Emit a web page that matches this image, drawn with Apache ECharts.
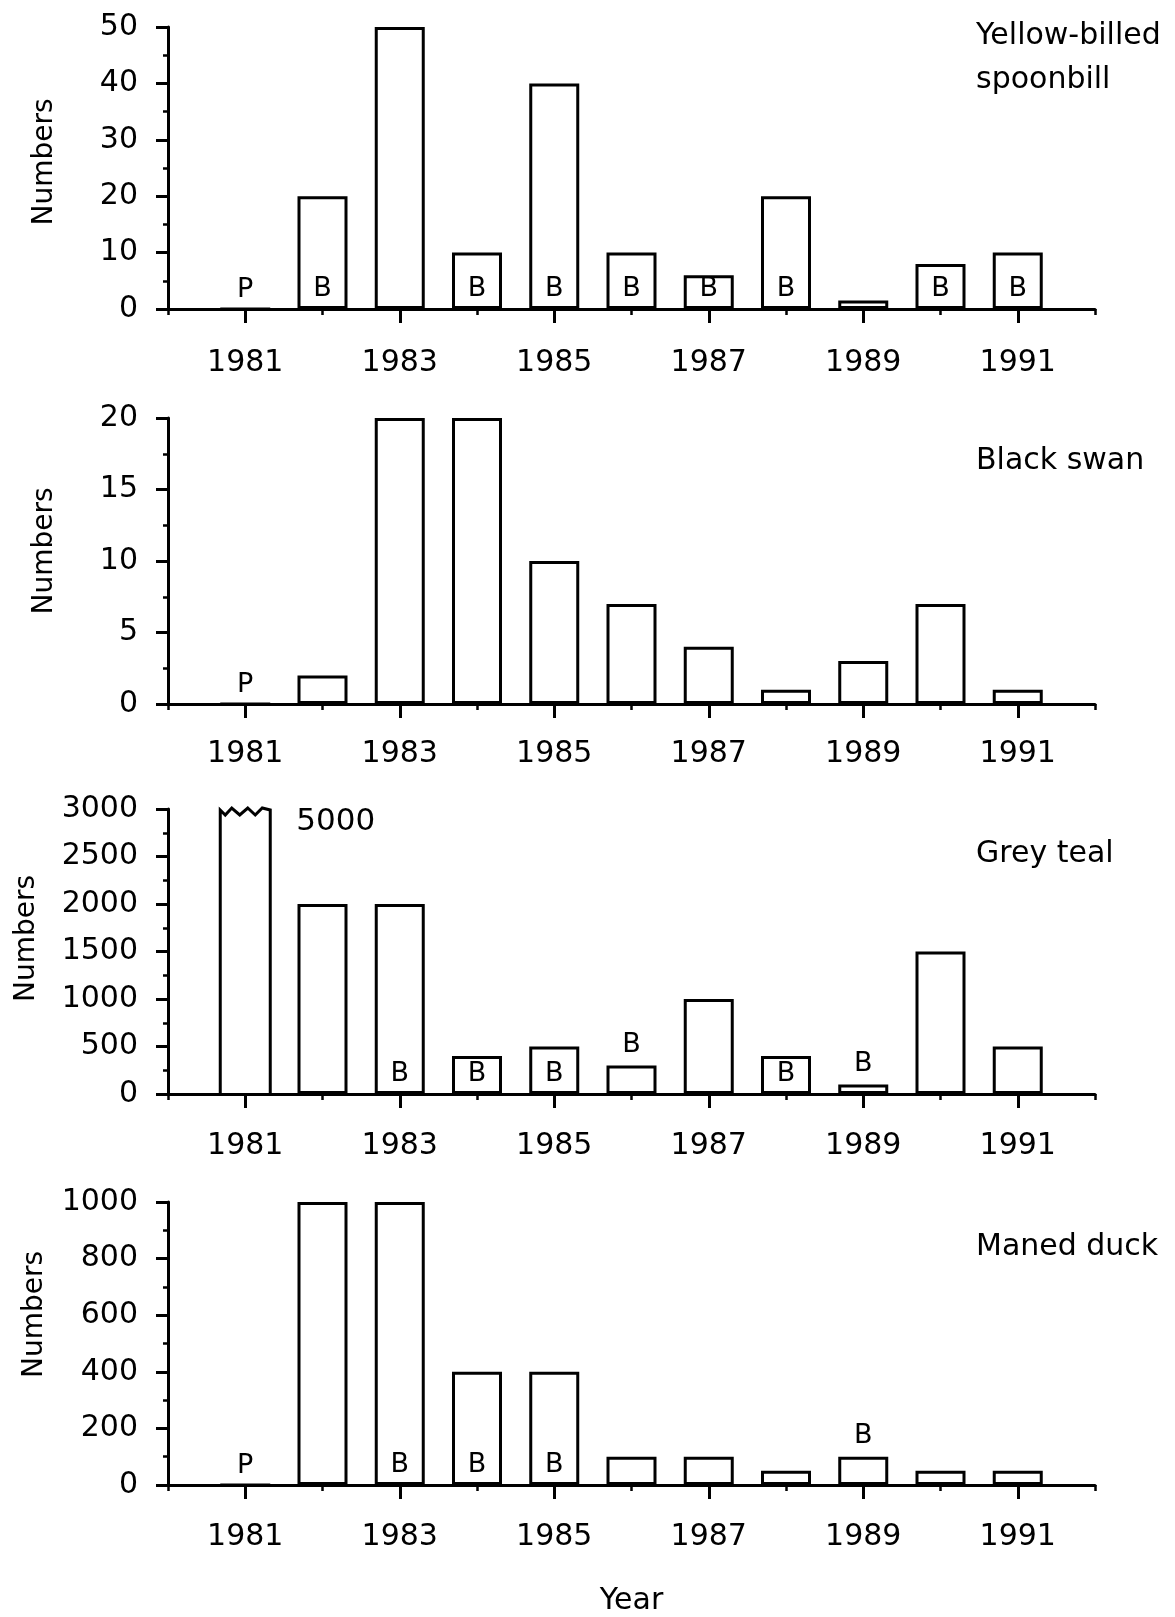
<!DOCTYPE html>
<html><head><meta charset="utf-8">
<script src="https://cdn.jsdelivr.net/npm/echarts@6/dist/echarts.min.js"></script>
<style>html,body{margin:0;padding:0;background:#fff}#c{width:1175px;height:1617px}</style>
</head><body><div id="c"></div>
<script>
// ---- data ----
const years = [1981, 1982, 1983, 1984, 1985, 1986, 1987, 1988, 1989, 1990, 1991];
const xTickLabels = [1981, 1983, 1985, 1987, 1989, 1991];
const speciesNames = ['Yellow-billed\nspoonbill', 'Black swan', 'Grey teal', 'Maned duck'];

const spoonbill = [0, 20, 50, 10, 40, 10, 6, 20, 1.5, 8, 10];
const blackSwan = [0, 2, 20, 20, 10, 7, 4, 1, 3, 7, 1];
const greyTeal = [5000, 2000, 2000, 400, 500, 300, 1000, 400, 100, 1500, 500];
const manedDuck = [0, 1000, 1000, 400, 400, 100, 100, 50, 100, 50, 50];

// 'P' / 'B' = inside bottom of bar, '^B' = above the bar
const spoonbillMarks = ['P', 'B', '', 'B', 'B', 'B', 'B', 'B', '', 'B', 'B'];
const blackSwanMarks = ['P', '', '', '', '', '', '', '', '', '', ''];
const greyTealMarks = ['', '', 'B', 'B', 'B', '^B', '', 'B', '^B', '', ''];
const manedDuckMarks = ['P', '', 'B', 'B', 'B', '', '', '', '^B', '', ''];

const yMaxes = [50, 20, 3000, 1000];
const yIntervals = [10, 5, 500, 200];

// ---- layout / style ----
const FONT = 'DejaVu Sans';
const BAR_W = 50;
const LW = 3;
const gridTops = [27, 418, 809, 1202];
const gridHeights = [282, 286, 285, 284];
const xLabelMargins = [39, 35, 37, 37];
const yNameGaps = [109, 109, 127, 119];
const yNamePads = [12, 20, 26, 58];
const titleTops = [14, 439, 832, 1225];

const seriesValues = [spoonbill, blackSwan, greyTeal, manedDuck];
const seriesMarks = [spoonbillMarks, blackSwanMarks, greyTealMarks, manedDuckMarks];

const plain = v => String(v);
const grids = [], xAxes = [], yAxes = [], series = [], titles = [];

for (let p = 0; p < 4; p++) {
  grids.push({left: 168, width: 927, top: gridTops[p], height: gridHeights[p], containLabel: false});
  xAxes.push({
    gridIndex: p, type: 'value', position: 'bottom', min: 1980, max: 1992, interval: 1,
    axisLine: {show: true, onZero: false, lineStyle: {color: '#000', width: LW}},
    axisTick: {show: true, customValues: xTickLabels, length: 14, lineStyle: {color: '#000', width: LW}},
    axisLabel: {show: true, customValues: xTickLabels, formatter: plain, margin: xLabelMargins[p],
      fontFamily: FONT, fontSize: 30, color: '#000'},
    splitLine: {show: false},
    name: p === 3 ? 'Year' : '', nameLocation: 'middle', nameGap: 101,
    nameTextStyle: {fontFamily: FONT, fontSize: 30, color: '#000'}
  });
  xAxes.push({
    gridIndex: p, type: 'value', position: 'bottom', min: 1980, max: 1992, interval: 1,
    axisLine: {show: false},
    axisTick: {show: true, length: 6, lineStyle: {color: '#000', width: 2.5}},
    axisLabel: {show: false},
    splitLine: {show: false}
  });
  yAxes.push({
    gridIndex: p, type: 'value', min: 0, max: yMaxes[p], interval: yIntervals[p],
    name: 'Numbers', nameLocation: 'middle', nameGap: yNameGaps[p], nameRotate: 90,
    nameTextStyle: {fontFamily: FONT, fontSize: 28, color: '#000', padding: [0, 0, 0, yNamePads[p]]},
    axisLine: {show: true, lineStyle: {color: '#000', width: LW}},
    axisTick: {show: true, length: 12, lineStyle: {color: '#000', width: LW}},
    minorTick: {show: true, splitNumber: 2, length: 5, lineStyle: {color: '#000', width: 2.5}},
    axisLabel: {margin: 30, formatter: plain, fontFamily: FONT, fontSize: 30, color: '#000'},
    splitLine: {show: false}, minorSplitLine: {show: false}
  });

  const vals = seriesValues[p], marks = seriesMarks[p], yMax = yMaxes[p];
  const barData = [], brokenData = [];
  vals.forEach((v, i) => {
    if (v > yMax) { brokenData.push([years[i], v]); return; }
    const item = {value: [years[i], v]};
    const m = marks[i];
    if (m) {
      const above = m[0] === '^';
      item.label = {show: true, formatter: above ? m.slice(1) : m,
        position: above ? 'top' : 'insideBottom', distance: 7,
        fontFamily: FONT, fontSize: 27, color: '#000'};
    }
    barData.push(item);
  });
  series.push({
    type: 'bar', xAxisIndex: 2 * p, yAxisIndex: p, barWidth: BAR_W,
    itemStyle: {color: '#fff', borderColor: '#000', borderWidth: LW},
    label: {show: false}, data: barData, animation: false
  });
  if (brokenData.length) {
    series.push({
      type: 'custom', xAxisIndex: 2 * p, yAxisIndex: p, clip: false, animation: false,
      data: brokenData,
      renderItem: function (params, api) {
        const x = api.value(0), v = api.value(1);
        const b = api.coord([x, 0]), t = api.coord([x, Math.min(v, yMax)]);
        const l = b[0] - BAR_W / 2, w = BAR_W;
        const zig = [[0, 1], [0.1, 6], [0.23, -1], [0.39, 6], [0.55, -1], [0.7, 6], [0.84, -1], [1, 1]];
        const pts = [[l, b[1]]];
        zig.forEach(z => pts.push([l + w * z[0], t[1] + z[1]]));
        pts.push([l + w, b[1]]);
        return {type: 'group', children: [
          {type: 'polyline', shape: {points: pts}, style: {stroke: '#000', lineWidth: LW, fill: null}},
          {type: 'text', x: l + w + 26, y: t[1] + 13,
           style: {text: String(v), font: '31px "' + FONT + '"', fill: '#000', align: 'left', verticalAlign: 'middle'}}
        ]};
      }
    });
  }
  titles.push({text: speciesNames[p], left: 976, top: titleTops[p], padding: 0,
    textStyle: {fontFamily: FONT, fontSize: 30, fontWeight: 'normal', color: '#000', lineHeight: 44}});
}

const chart = echarts.init(document.getElementById('c'), null, {renderer: 'canvas'});
chart.setOption({
  backgroundColor: '#fff', animation: false,
  title: titles, grid: grids, xAxis: xAxes, yAxis: yAxes, series: series
});
</script></body></html>
